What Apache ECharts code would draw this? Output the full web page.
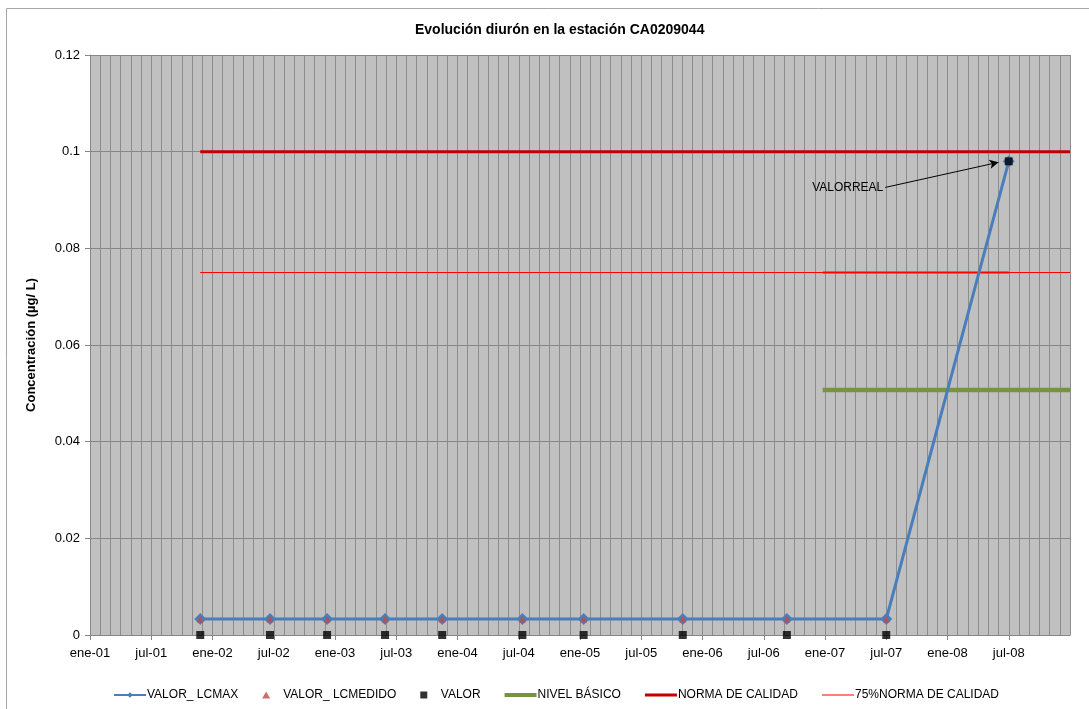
<!DOCTYPE html>
<html>
<head>
<meta charset="utf-8">
<script src="https://cdn.jsdelivr.net/npm/echarts@6/dist/echarts.min.js"></script>
<style>
html,body{margin:0;padding:0;background:#fff;}
#chart{width:1089px;height:709px;}
</style>
</head>
<body>
<div id="chart"></div>
<script>
// ---- data ----
const titleText = 'Evolución diurón en la estación CA0209044';
const yAxisName = 'Concentración (µg/ L)';
const monthAbbr = ['ene', 'jul'];
const axisStart = '2001-01-01';
const axisEnd = '2009-01-01';

const sampleDates = ['2001-11-25','2002-06-20','2002-12-08','2003-05-29','2003-11-16','2004-07-12','2005-01-12','2005-11-03','2006-09-09','2007-07-01','2008-07-01'];
const valorLcMax    = [0.0033,0.0033,0.0033,0.0033,0.0033,0.0033,0.0033,0.0033,0.0033,0.0033,0.098];
const valorLcMedido = [0.0033,0.0033,0.0033,0.0033,0.0033,0.0033,0.0033,0.0033,0.0033,0.0033,null];
const valor         = [0,0,0,0,0,0,0,0,0,0,0.098];

const nivelBasicoDates = ['2006-12-25','2009-01-01'];
const nivelBasico      = [0.0507,0.0507];
const normaDates = ['2001-11-25','2009-01-01'];
const norma      = [0.1,0.1];
const norma75Dates = ['2001-11-25','2009-01-01'];
const norma75      = [0.075,0.075];
const norma75SegDates = ['2006-12-25','2008-07-01'];
const norma75Seg      = [0.075,0.075];

const annotationText = 'VALORREAL';
const annotationFrom = ['2007-06-28', 0.0926];
const annotationTo   = ['2008-06-01', 0.0978];

// ---- helpers ----
function toMonths(s){
  const d = new Date(s + 'T00:00:00Z');
  const y = d.getUTCFullYear(), m = d.getUTCMonth(), day = d.getUTCDate();
  const dim = new Date(Date.UTC(y, m + 1, 0)).getUTCDate();
  const s0 = new Date(axisStart + 'T00:00:00Z');
  return (y - s0.getUTCFullYear()) * 12 + (m - s0.getUTCMonth()) + (day - 1) / dim;
}
function pairs(dates, vals){ return dates.map((d,i)=>[toMonths(d), vals[i]]); }

const xMax = toMonths(axisEnd);
const font = 'Liberation Sans, Arial, sans-serif';

const chart = echarts.init(document.getElementById('chart'), null, {renderer:'canvas'});
chart.setOption({
  animation:false,
  backgroundColor:'#ffffff',
  textStyle:{fontFamily:font},
  title:{
    text:titleText, left:410, top:18,
    textStyle:{fontFamily:font, fontSize:14, fontWeight:'bold', color:'#000'}
  },
  graphic:[{
    type:'polyline', silent:true,
    shape:{points:[[6.5,709],[6.5,8.5],[1089,8.5]]},
    style:{stroke:'#a6a6a6', lineWidth:1, fill:null}
  }],
  legend:{
    data:[
      {name:'VALOR_ LCMAX'},
      {name:'VALOR_ LCMEDIDO', icon:'path://M4,0L8,7L0,7Z'},
      {name:'VALOR', icon:'path://M0,0H7V7H0Z'},
      {name:'NIVEL BÁSICO', icon:'path://M0,0H32V4H0Z'},
      {name:'NORMA DE CALIDAD', icon:'path://M0,0H32V3H0Z'},
      {name:'75%NORMA DE CALIDAD', icon:'path://M0,0H32V1H0Z'}
    ],
    left:108, top:684, itemWidth:32, itemHeight:7, itemGap:24, symbolKeepAspect:true,
    textStyle:{fontFamily:font, fontSize:12, color:'#000', padding:[0,0,0,-4]}
  },
  grid:{left:90, right:19, top:55, bottom:74, show:true, backgroundColor:'#c0c0c0', borderWidth:0},
  xAxis:{
    type:'value', min:0, max:xMax, interval:6,
    axisLine:{show:true, onZero:false, lineStyle:{color:'#868686', width:1}},
    axisTick:{show:true, length:5, inside:false, lineStyle:{color:'#868686'}},
    minorTick:{show:false, splitNumber:6},
    splitLine:{show:true, lineStyle:{color:'#8c8c8c', width:1}},
    minorSplitLine:{show:true, lineStyle:{color:'#8c8c8c', width:1}},
    axisLabel:{
      fontFamily:font, fontSize:13, color:'#000', margin:12, showMaxLabel:false,
      formatter:function(v){
        if (v >= xMax - 0.01) return '';
        const y = 2001 + Math.floor(v/12);
        const idx = Math.round((v % 12)/6);
        return monthAbbr[idx] + '-' + String(y % 100).padStart(2,'0');
      }
    }
  },
  yAxis:{
    type:'value', min:0, max:0.12, interval:0.02,
    name:yAxisName, nameLocation:'middle', nameGap:52,
    nameTextStyle:{fontFamily:font, fontSize:13, fontWeight:'bold', color:'#000'},
    axisLine:{show:true, lineStyle:{color:'#868686'}},
    axisTick:{show:true, length:5, lineStyle:{color:'#868686'}},
    splitLine:{show:true, lineStyle:{color:'#868686', width:1}},
    axisLabel:{fontFamily:font, fontSize:13, color:'#000', margin:10}
  },
  series:[
    {
      name:'NORMA DE CALIDAD', type:'line', data:pairs(normaDates,norma),
      symbol:'none', lineStyle:{color:'#c00000', width:3}, itemStyle:{color:'#c00000'}, z:2
    },
    {
      name:'75%NORMA DE CALIDAD', type:'line', data:pairs(norma75Dates,norma75),
      symbol:'none', lineStyle:{color:'#ff0000', width:1}, itemStyle:{color:'#ff0000'}, z:2
    },
    {
      name:'75%NORMA DE CALIDAD', type:'line', data:pairs(norma75SegDates,norma75Seg),
      symbol:'none', lineStyle:{color:'#ff0000', width:2}, itemStyle:{color:'#ff0000'}, z:2
    },
    {
      name:'NIVEL BÁSICO', type:'line', data:pairs(nivelBasicoDates,nivelBasico),
      symbol:'none', lineStyle:{color:'#77933c', width:4.5}, itemStyle:{color:'#77933c'}, z:2
    },
    {
      name:'VALOR_ LCMAX', type:'line', data:pairs(sampleDates,valorLcMax),
      symbol:'diamond', symbolSize:12, showAllSymbol:true,
      lineStyle:{color:'#4a7ebb', width:3}, itemStyle:{color:'#4a7ebb'}, z:3
    },
    {
      name:'VALOR_ LCMEDIDO', type:'scatter', data:pairs(sampleDates,valorLcMedido).filter(p=>p[1]!==null),
      symbol:'triangle', symbolSize:[7,7], itemStyle:{color:'#be4b48'}, z:4
    },
    {
      name:'VALOR', type:'scatter', data:pairs(sampleDates,valor),
      symbol:'rect', symbolSize:8, itemStyle:{color:'#000000'}, z:5,
      markLine:{
        silent:true, animation:false,
        symbol:['none','arrow'], symbolSize:[7,9],
        lineStyle:{color:'#000', width:1, type:'solid'},
        label:{show:true, position:'start', formatter:annotationText, fontFamily:font, fontSize:12, color:'#000', distance:2},
        data:[[
          {coord:[toMonths(annotationFrom[0]), annotationFrom[1]]},
          {coord:[toMonths(annotationTo[0]), annotationTo[1]]}
        ]]
      }
    }
  ]
});
</script>
</body>
</html>
